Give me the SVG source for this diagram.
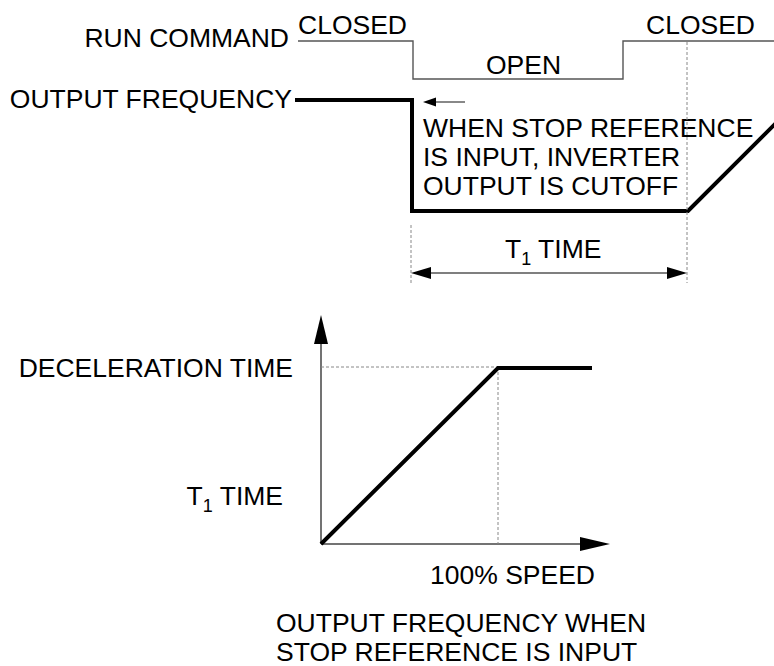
<svg xmlns="http://www.w3.org/2000/svg" width="774" height="666" viewBox="0 0 774 666">
<style>
text{font-family:"Liberation Sans",Arial,sans-serif;font-size:26.5px;fill:#000}
.sub{font-size:18px}
.thin{fill:none;stroke:#555;stroke-width:1.4}
.thick{fill:none;stroke:#000;stroke-width:4;stroke-linejoin:miter}
.dash{fill:none;stroke:#888;stroke-width:1;stroke-dasharray:3 2}
.axis{fill:none;stroke:#444;stroke-width:1.5}
.head{fill:#000}
</style>
<rect width="774" height="666" fill="#fff"/>
<g id="labels">
<text x="289" y="47" text-anchor="end">RUN COMMAND</text>
<text x="298" y="34">CLOSED</text>
<text x="486" y="74">OPEN</text>
<text x="646" y="34">CLOSED</text>
<text x="292" y="108" text-anchor="end">OUTPUT FREQUENCY</text>
<text x="423" y="137">WHEN STOP REFERENCE</text>
<text x="423" y="166">IS INPUT, INVERTER</text>
<text x="423" y="195">OUTPUT IS CUTOFF</text>
<text x="505" y="258">T<tspan class="sub" dy="7">1</tspan><tspan dy="-7"> TIME</tspan></text>
<text x="293" y="377" text-anchor="end">DECELERATION TIME</text>
<text x="283" y="505" text-anchor="end">T<tspan class="sub" dy="7">1</tspan><tspan dy="-7"> TIME</tspan></text>
<text x="430" y="584">100% SPEED</text>
<text x="276" y="632">OUTPUT FREQUENCY WHEN</text>
<text x="276" y="661">STOP REFERENCE IS INPUT</text>
</g>
<g id="connectors">
<polyline class="thin" points="298,41 413,41 413,79 623,79 623,41 774,41"/>
<polyline class="thick" points="295,100 412,100 412,211 688,211 778,121"/>
<line class="dash" x1="687" y1="42" x2="687" y2="283"/>
<line class="dash" x1="411" y1="225" x2="411" y2="283"/>
<line class="thin" x1="431" y1="273" x2="667" y2="273" stroke="#000"/>
<polygon class="head" points="411,273 431,267 431,279"/>
<polygon class="head" points="687,273 667,267 667,279"/>
<line class="thin" x1="434" y1="102" x2="465" y2="102" stroke="#000"/>
<polygon class="head" points="423,102 436,97.5 436,106.5"/>
<line class="axis" x1="321" y1="544" x2="321" y2="340"/>
<polygon class="head" points="321,315 314,344 328,344"/>
<line class="axis" x1="321" y1="544" x2="584" y2="544"/>
<polygon class="head" points="610,544 580,537 580,551"/>
<line class="dash" x1="321" y1="367" x2="498" y2="367"/>
<line class="dash" x1="498" y1="367" x2="498" y2="544"/>
<polyline class="thick" points="321,544 498,368 592,368"/>
</g>
</svg>
